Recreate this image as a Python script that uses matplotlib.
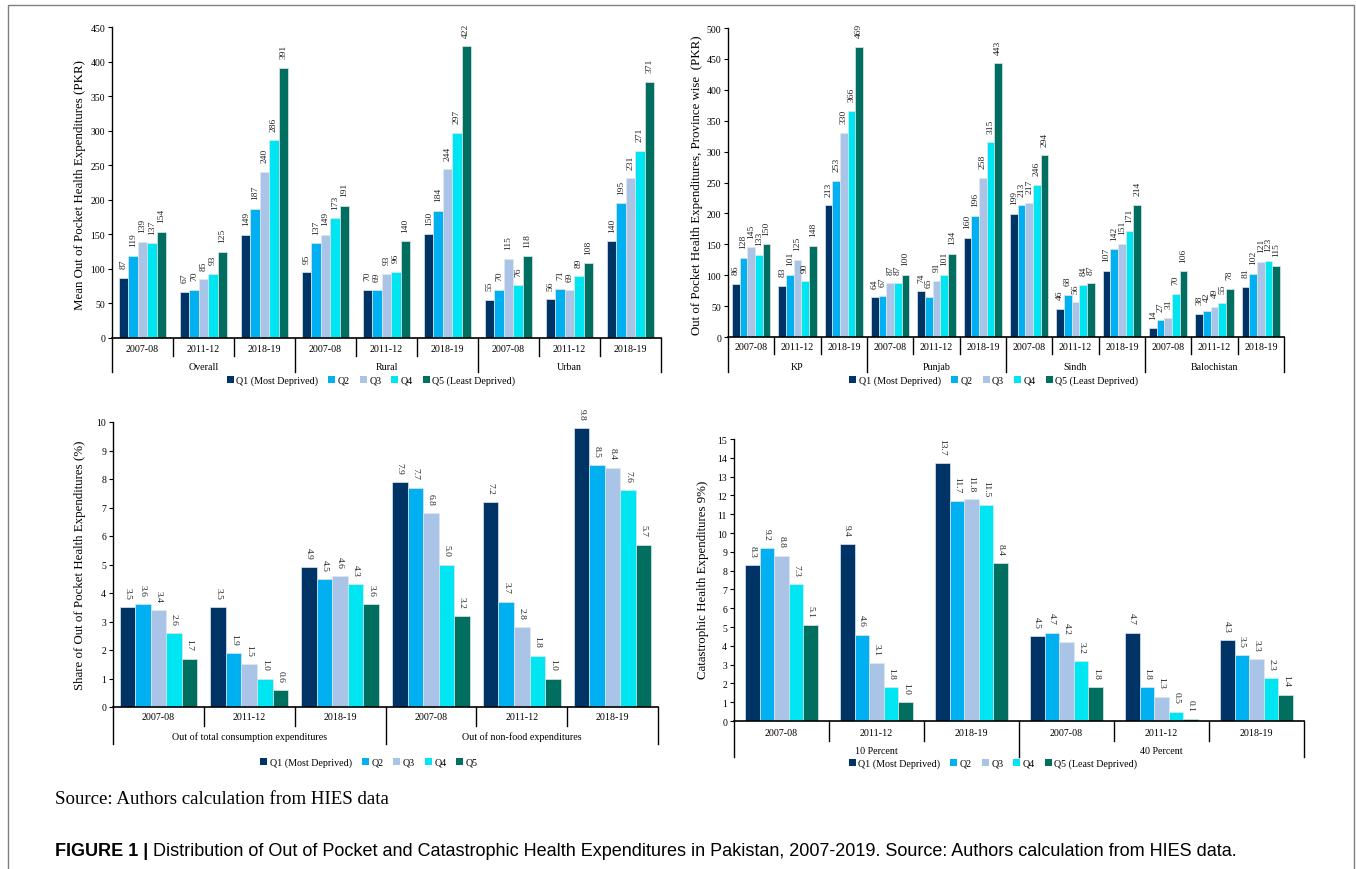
import matplotlib
matplotlib.use("Agg")
import matplotlib.pyplot as plt
from matplotlib.transforms import blended_transform_factory
from matplotlib.patches import Patch, Rectangle
from matplotlib.lines import Line2D

# ---------------------------------------------------------------- data
years = ["2007-08", "2011-12", "2018-19"]
quintiles = ["Q1 (Most Deprived)", "Q2", "Q3", "Q4", "Q5 (Least Deprived)"]
quintiles_short = ["Q1 (Most Deprived)", "Q2", "Q3", "Q4", "Q5"]

area_groups = ["Overall", "Rural", "Urban"]
area_q1 = [87, 67, 149, 95, 70, 150, 55, 56, 140]
area_q2 = [119, 70, 187, 137, 69, 184, 70, 71, 195]
area_q3 = [139, 85, 240, 149, 93, 244, 115, 69, 231]
area_q4 = [137, 93, 286, 173, 96, 297, 76, 89, 271]
area_q5 = [154, 125, 391, 191, 140, 422, 118, 108, 371]

province_groups = ["KP", "Punjab", "Sindh", "Balochistan"]
prov_q1 = [86, 83, 213, 64, 74, 160, 199, 46, 107, 14, 38, 81]
prov_q2 = [128, 101, 253, 67, 65, 196, 213, 68, 142, 27, 42, 102]
prov_q3 = [145, 125, 330, 87, 91, 258, 217, 56, 151, 31, 49, 121]
prov_q4 = [133, 90, 366, 87, 101, 315, 246, 84, 171, 70, 55, 123]
prov_q5 = [150, 148, 469, 100, 134, 443, 294, 87, 214, 106, 78, 115]

share_groups = ["Out of total consumption expenditures", "Out of non-food expenditures"]
share_q1 = [3.5, 3.5, 4.9, 7.9, 7.2, 9.8]
share_q2 = [3.6, 1.9, 4.5, 7.7, 3.7, 8.5]
share_q3 = [3.4, 1.5, 4.6, 6.8, 2.8, 8.4]
share_q4 = [2.6, 1.0, 4.3, 5.0, 1.8, 7.6]
share_q5 = [1.7, 0.6, 3.6, 3.2, 1.0, 5.7]

che_groups = ["10 Percent", "40 Percent"]
che_q1 = [8.3, 9.4, 13.7, 4.5, 4.7, 4.3]
che_q2 = [9.2, 4.6, 11.7, 4.7, 1.8, 3.5]
che_q3 = [8.8, 3.1, 11.8, 4.2, 1.3, 3.3]
che_q4 = [7.3, 1.8, 11.5, 3.2, 0.5, 2.3]
che_q5 = [5.1, 1.0, 8.4, 1.8, 0.1, 1.4]

colors = ["#003366", "#00B0F0", "#A9C4E6", "#00E5F2", "#006F5F"]

# ---------------------------------------------------------------- figure
W, H = 1356, 870
plt.rcParams["font.family"] = ["Liberation Serif", "DejaVu Serif"]
fig = plt.figure(figsize=(W / 100, H / 100), dpi=100)

# thin grey frame around the figure
fig.add_artist(Rectangle((8 / W, -0.01), (1354 - 8) / W, 1 - 6 / H + 0.01,
                         transform=fig.transFigure, fill=False,
                         edgecolor="#7f7f7f", lw=1.0))


def px_axes(left, right, top, bottom):
    return fig.add_axes([left / W, 1 - bottom / H, (right - left) / W, (bottom - top) / H])


def bar_panel(ax, series, bw, ymax, ystep, fmt, rot, offset, ylabel, ylabel_xy,
              groups, year_sep, year_lab, group_lab, group_sep, axis_px):
    n = len(series[0])
    for j, vals in enumerate(series):
        xs = [i + (j - 2) * bw for i in range(n)]
        ax.bar(xs, vals, width=bw, color=colors[j], edgecolor="#dfe6ee",
               linewidth=0.5, zorder=2)
        for x, v in zip(xs, vals):
            ax.annotate(fmt.format(v), (x, v), xytext=(0, offset),
                        textcoords="offset points", rotation=rot,
                        ha="center", va="bottom", fontsize=6.8,
                        color="#222222", annotation_clip=False)
    ax.set_xlim(-0.5, n - 0.5)
    ax.set_ylim(0, ymax)
    ticks = [k * ystep for k in range(int(round(ymax / ystep)) + 1)]
    ax.set_yticks(ticks)
    ax.set_yticklabels([("{:g}".format(t)) for t in ticks], fontsize=7)
    ax.tick_params(axis="y", direction="out", length=3, width=0.8, pad=2)
    ax.set_xticks([])
    for s in ("top", "right"):
        ax.spines[s].set_visible(False)
    ax.spines["left"].set_linewidth(1.0)
    ax.spines["bottom"].set_linewidth(1.2)

    # two-level category axis drawn below the baseline
    hpx = ax.get_position().height * H
    tr = blended_transform_factory(ax.transData, ax.transAxes)
    f = lambda p: -(p - axis_px) / hpx
    for i in range(n + 1):
        depth = group_sep if i % 3 == 0 else year_sep
        ax.add_line(Line2D([i - 0.5, i - 0.5], [0, f(depth)], transform=tr,
                           color="black", lw=1.0, clip_on=False))
    for i in range(n):
        ax.text(i, f(year_lab), years[i % 3], transform=tr, ha="center",
                va="center", fontsize=7.2)
    for g, name in enumerate(groups):
        ax.text(3 * g + 1, f(group_lab), name, transform=tr, ha="center",
                va="center", fontsize=7.2)
    fig.text(ylabel_xy[0] / W, 1 - ylabel_xy[1] / H, ylabel, rotation=90,
             ha="center", va="center", fontsize=9.3)


def add_legend(labels, cx, cy):
    handles = [Patch(facecolor=c, edgecolor="none") for c in colors]
    fig.legend(handles, labels, loc="center", bbox_to_anchor=(cx / W, 1 - cy / H),
               ncol=5, frameon=False, fontsize=7.2, handlelength=0.7,
               handleheight=0.7, handletextpad=0.25, columnspacing=1.0,
               borderaxespad=0)


# mean OOP by area
ax1 = px_axes(112, 661, 28, 339)
bar_panel(ax1, [area_q1, area_q2, area_q3, area_q4, area_q5], 0.154, 450, 50,
          "{:d}", 90, 7, "Mean Out of Pocket Health Expenditures (PKR)", (80, 185),
          area_groups, 357, 349, 367, 373, 339)
add_legend(quintiles, 371, 381)

# OOP by province
ax2 = px_axes(728, 1284, 29, 338)
bar_panel(ax2, [prov_q1, prov_q2, prov_q3, prov_q4, prov_q5], 0.165, 500, 50,
          "{:d}", 90, 7, "Out of Pocket Health Expenditures, Province wise  (PKR)", (697, 185),
          province_groups, 355, 348, 367, 373, 338)
add_legend(quintiles, 994, 381)

# share of OOP in expenditures
ax3 = px_axes(113, 658, 423, 708)
bar_panel(ax3, [share_q1, share_q2, share_q3, share_q4, share_q5], 0.171, 10, 1,
          "{:.1f}", -90, 6, "Share of Out of Pocket Health Expenditures (%)", (80, 565),
          share_groups, 727, 718, 737, 745, 708)
add_legend(quintiles_short, 369, 763)

# catastrophic health expenditures
ax4 = px_axes(734, 1304, 440, 722)
bar_panel(ax4, [che_q1, che_q2, che_q3, che_q4, che_q5], 0.154, 15, 1,
          "{:.1f}", -90, 6, "Catastrophic Health Expenditures 9%)", (703, 580),
          che_groups, 742, 733, 752, 758, 722)
add_legend(quintiles, 993, 764)

# source note and caption
fig.text(55 / W, 1 - 800 / H, "Source: Authors calculation from HIES data",
         fontsize=13.6, ha="left", va="center", family="Liberation Serif")
cap_y = 1 - 852 / H
t1 = fig.text(55 / W, cap_y, "FIGURE 1 |", fontsize=12.95, fontweight="bold",
              ha="left", va="center", family="Liberation Sans")
renderer = fig.canvas.get_renderer()
bb = t1.get_window_extent(renderer)
fig.text((bb.x1 + 5) / W, cap_y,
         "Distribution of Out of Pocket and Catastrophic Health Expenditures in "
         "Pakistan, 2007-2019. Source: Authors calculation from HIES data.",
         fontsize=12.95, ha="left", va="center", family="Liberation Sans")

fig.savefig("out.png", dpi=100)
